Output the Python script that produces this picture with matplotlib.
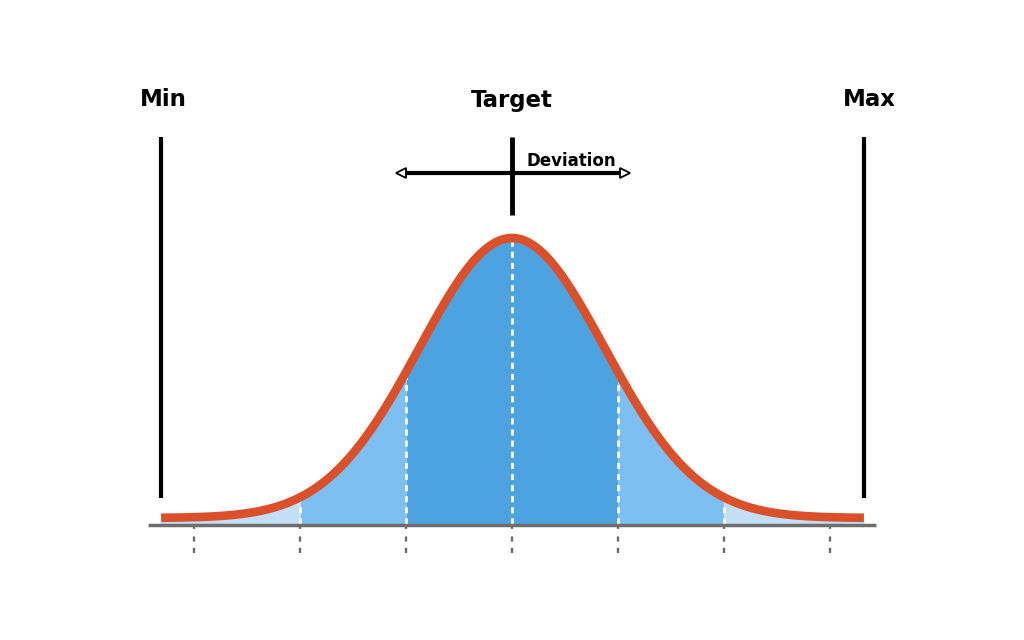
import numpy as np
import matplotlib
matplotlib.use("Agg")
import matplotlib.pyplot as plt

# ---- data ----
sigma_ticks = [-3, -2, -1, 0, 1, 2, 3]
inner_dash_ticks = [-2, -1, 0, 1, 2]
band_edges = [(-1, 1), (-2, -1), (1, 2), (-3.32, -2), (2, 3.32)]
band_colors = ["#4DA3E0", "#7DBFF0", "#7DBFF0", "#C3DFF5", "#C3DFF5"]
limit_labels = ["Min", "Target", "Max"]
limit_x = [-3.31, 0.0, 3.32]
curve_base = 7.0       # height of tails above axis line
curve_amp = 280.0      # peak height above tails
curve_sigma = 0.876    # width of drawn bell
curve_range = (-3.31, 3.32)

def bell(x):
    return curve_base + curve_amp * np.exp(-x**2 / (2 * curve_sigma**2))

fig = plt.figure(figsize=(10.24, 6.4), dpi=100)
ax = fig.add_axes([0, 0, 1, 1])
ax.set_xlim(-512 / 106, 512 / 106)
ax.set_ylim(-115, 525)
ax.axis("off")

# filled bands
for (a, b), c in zip(band_edges, band_colors):
    xs = np.linspace(a, b, 200)
    ax.fill_between(xs, 0, bell(xs), color=c, lw=0, zorder=1)

# white dashed lines inside
for t in inner_dash_ticks:
    ax.plot([t, t], [1, bell(t) - 4], color="white", lw=2,
            dashes=(2.2, 1.8), zorder=2)

# axis line
ax.plot([-3.434, 3.434], [0, 0], color="#6E6E6E", lw=2.5,
        solid_capstyle="butt", zorder=3)

# dotted ticks below axis
for t in sigma_ticks:
    ax.plot([t, t], [-2, -28], color="#6B6B6B", lw=1.7,
            dashes=(0.8, 3.2, 2.2, 2.6, 2.2, 3.0), solid_capstyle="butt", zorder=3)

# curve
xs = np.linspace(curve_range[0], curve_range[1], 600)
ax.plot(xs, bell(xs), color="#D9502A", lw=6.2, solid_capstyle="butt", zorder=4)

# Min / Max / Target vertical lines
ax.plot([limit_x[0], limit_x[0]], [27, 388], color="black", lw=3, solid_capstyle="butt", zorder=5)
ax.plot([limit_x[2], limit_x[2]], [27, 388], color="black", lw=3, solid_capstyle="butt", zorder=5)
ax.plot([limit_x[1], limit_x[1]], [310, 388], color="black", lw=3.5, solid_capstyle="butt", zorder=5)

# deviation arrow
ax.plot([-1.04, 1.06], [352, 352], color="black", lw=3, solid_capstyle="butt", zorder=5)
ax.plot([-1.05], [352], marker="<", ms=7, mfc="white", mec="black", mew=1.3, zorder=6)
ax.plot([1.07], [352], marker=">", ms=7, mfc="white", mec="black", mew=1.3, zorder=6)
ax.text(0.14, 364, "Deviation", fontsize=12, fontweight="bold",
        ha="left", va="center", color="black", zorder=6)

# labels
for lab, x in zip(limit_labels, limit_x):
    ax.text(x + (0.02 if lab == "Min" else 0.05 if lab == "Max" else 0.0), 425, lab,
            fontsize=16.5, fontweight="bold", ha="center", va="center", color="black")

fig.savefig("out.png", dpi=100)
